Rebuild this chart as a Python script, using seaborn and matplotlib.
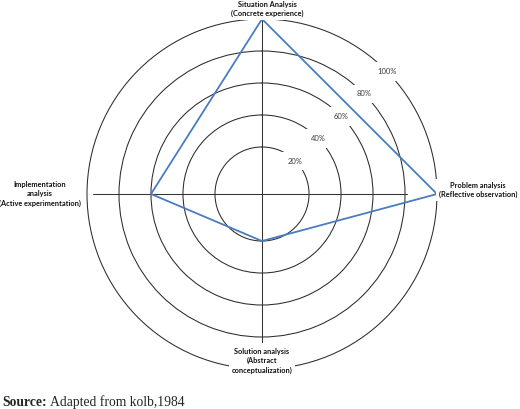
import numpy as np
import pandas as pd
import matplotlib
matplotlib.use("Agg")
import matplotlib.pyplot as plt
import seaborn as sns

# ---- data ----
categories = [
    "Situation Analysis\n(Concrete experience)",
    "Problem analysis\n(Reflective observation)",
    "Solution analysis\n(Abstract\nconceptualization)",
    "Implementation\nanalysis\n(Active experimentation)",
]
values = [100, 100, 20, 60]
ring_levels = [20, 40, 60, 80, 100]
ring_labels = ["20%", "40%", "60%", "80%", "100%"]
axis_extent = [100, 81, 83, 96]
source_bold = "Source:"
source_text = "Adapted from kolb,1984"

# ---- layout / style ----
sns.set_theme(style="white")
plt.rcParams['font.family'] = ['Lato', 'DejaVu Sans']

W, H, DPI = 520, 409, 100
fig = plt.figure(figsize=(W / DPI, H / DPI), dpi=DPI)
fig.patch.set_facecolor("white")
RORIG = -9.4
RMAX = 101.0
cx, cy = 262, 194
R = 175 * (RMAX - RORIG) / (100 - RORIG)
ax = fig.add_axes([(cx - R) / W, (H - cy - R) / H, 2 * R / W, 2 * R / H],
                  projection="polar")
ax.set_theta_zero_location("N")
ax.set_theta_direction(-1)

n = len(values)
theta = np.arange(n) * 2 * np.pi / n

# cross axis lines through the centre
for th, L in zip(theta, axis_extent):
    ax.plot([th, th], [RORIG, L], color="#333333", lw=0.75, clip_on=False, zorder=2)

# data polygon
df = pd.DataFrame({"theta": np.append(theta, 2 * np.pi),
                   "value": values + values[:1]})
sns.lineplot(data=df, x="theta", y="value", sort=False, estimator=None,
             ax=ax, color="#4a7cc0", lw=1.3, zorder=6)
for l in ax.lines:
    l.set_clip_on(False)

ax.set_xlabel("")
ax.set_ylabel("")
ax.set_thetalim(0, 2 * np.pi)
ax.set_ylim(0, RMAX)
ax.set_rorigin(RORIG)
ax.set_yticks(ring_levels)
ax.set_yticklabels([])
ax.set_xticks([])
ax.grid(True, axis="y", color="#2b2b2b", lw=0.75)
ax.grid(False, axis="x")
for s in ax.spines.values():
    s.set_visible(False)
    s.set_edgecolor("none")
    s.set_linewidth(0)
ax.patch.set_visible(False)
for gl in ax.yaxis.get_gridlines():
    gl.set_zorder(1)

# ring percentage labels
for lev, lab in zip(ring_levels, ring_labels):
    ax.text(np.pi / 4 + 0.01, lev, lab, fontsize=5.5, color="#3a3a3a",
            ha="center", va="center", zorder=4,
            bbox=dict(boxstyle="square,pad=0.75", fc="white", ec="none"))

# category labels
label_pos = [(267, 9), (478, 190), (262, 361), (40, 194)]
for txt, (px, py) in zip(categories, label_pos):
    fig.text(px / W, 1 - py / H, txt, fontsize=5.3, fontweight="bold",
             ha="center", va="center", multialignment="center",
             linespacing=1.45, color="#111111", zorder=5,
             bbox=dict(boxstyle="square,pad=0.35", fc="white", ec="none"))

# source line
t1 = fig.text(2 / W, 1 - 406 / H, source_bold, fontsize=9.8, fontweight="bold",
              family=["Liberation Serif", "DejaVu Serif"], va="baseline", ha="left")
fig.canvas.draw()
bb = t1.get_window_extent(renderer=fig.canvas.get_renderer())
fig.text((bb.x1 + 3.5) / W, 1 - 406 / H, source_text, fontsize=9.8,
         family=["Liberation Serif", "DejaVu Serif"], va="baseline", ha="left")

fig.savefig("out.png", dpi=DPI, facecolor="white")
